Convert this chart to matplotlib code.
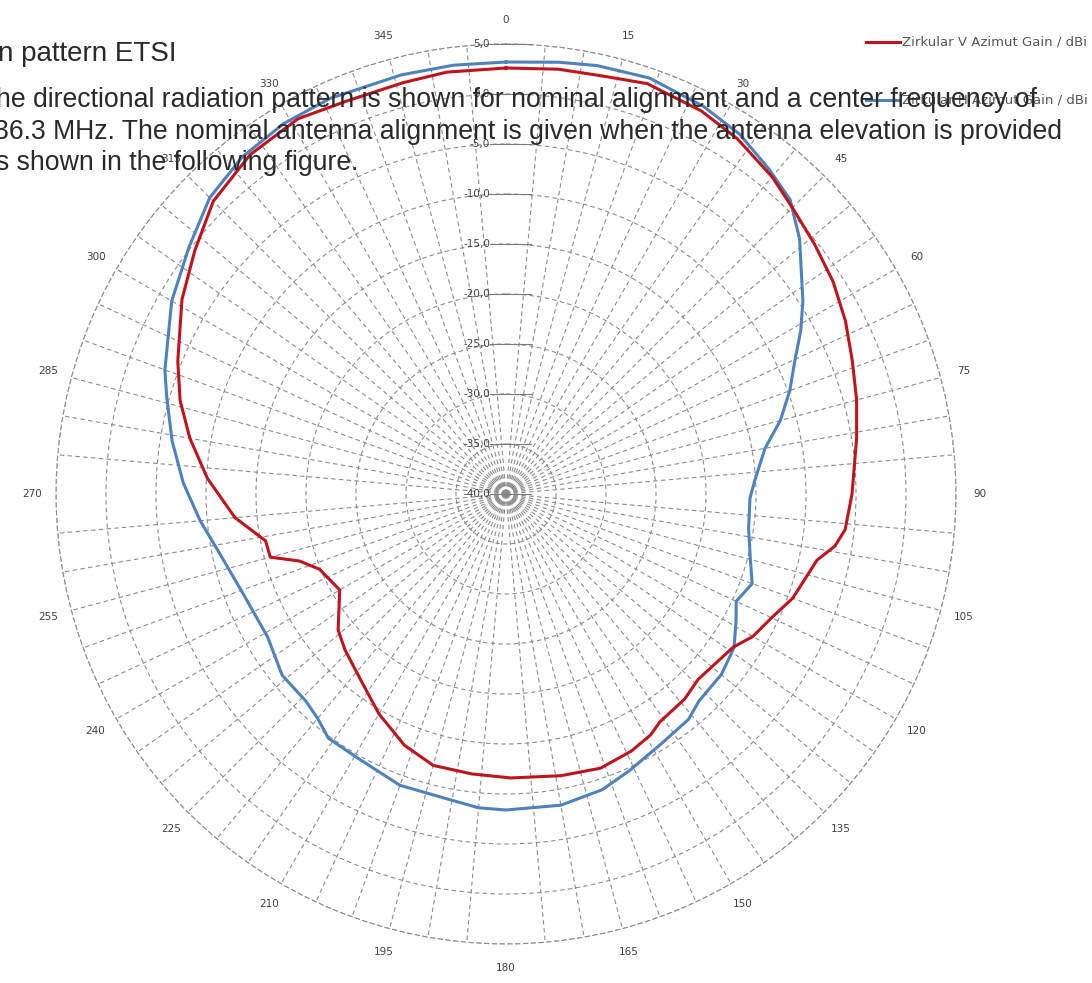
import numpy as np
import matplotlib.pyplot as plt
from matplotlib.lines import Line2D

# azimuth in degrees (clockwise from north), gain in dBi
v_angles = [0, 7, 13, 19, 27, 33, 40, 45, 51, 57, 63, 69, 75, 81, 90, 96, 99, 102,
            110, 115, 120, 124, 134, 139, 146, 149, 154, 161, 169, 179, 187, 195,
            202, 210, 218, 226, 231, 240, 248, 252, 255, 259, 265, 273, 280, 286,
            292, 301, 308, 315, 323, 331, 338, 346, 352]
v_gain = [2.6, 2.8, 2.9, 3.4, 3.0, 2.4, 1.4, 0.5, -0.3, -1.0, -1.9, -2.9, -3.7, -4.5,
          -5.4, -5.9, -6.7, -8.2, -9.5, -10.7, -11.5, -12.6, -13.3, -12.8, -12.5,
          -11.9, -11.4, -11.0, -11.3, -11.6, -11.8, -11.9, -12.9, -14.6, -16.4,
          -17.6, -18.4, -20.8, -19.9, -18.3, -15.6, -15.5, -12.8, -10.1, -7.9, -6.1,
          -4.6, -2.2, -0.5, 1.4, 2.5, 2.9, 2.4, 2.4, 2.6]

h_angles = [0, 7, 12, 19, 27, 33, 39, 44, 49, 57, 61, 65, 70, 75, 80, 87, 91, 98,
            105, 110, 115, 119, 124, 130, 137, 141, 148, 156, 162, 170, 180, 185,
            190, 200, 209, 216, 220, 224, 231, 239, 249, 258, 265, 272, 279, 286,
            290, 300, 308, 315, 322, 329, 336, 346, 353]
h_gain = [3.2, 3.5, 3.8, 4.0, 3.5, 2.9, 1.8, 0.9, -1.1, -4.6, -6.3, -8.1, -9.8, -11.6,
          -13.7, -15.1, -15.6, -15.5, -14.7, -13.8, -14.6, -13.7, -12.5, -11.9, -11.7,
          -11.0, -10.6, -9.7, -8.9, -8.4, -8.4, -8.5, -8.9, -9.0, -9.7, -9.8, -10.7,
          -11.2, -11.2, -12.2, -11.9, -10.8, -9.3, -7.7, -6.2, -4.7, -3.7, -1.4, 0.2,
          1.9, 2.8, 3.2, 3.3, 3.2, 3.2]

angle_ticks = list(range(0, 360, 15))
ring_values = list(range(-40, 6, 5))

W, H = 1092, 983
cx, cy, R = 506, 494, 450   # centre and outer radius in pixels


def fx(px):
    return px / W


def fy(py):
    return 1 - py / H


fig = plt.figure(figsize=(W / 100, H / 100), dpi=100)
ax = fig.add_axes([fx(cx - R), fy(cy + R), 2 * R / W, 2 * R / H], projection='polar')
ax.set_theta_zero_location('N')
ax.set_theta_direction(-1)
ax.set_ylim(-40, 5)

grid_kw = dict(color='#8c8c8c', linestyle=(0, (4, 3)), linewidth=0.8)
# spokes every 5 degrees, none on the four main axes
spokes = [a for a in range(0, 360, 5) if a % 90 != 0]
ax.set_xticks(np.deg2rad(spokes))
ax.set_xticklabels([])
ax.set_yticks(ring_values)
ax.set_yticklabels([])
ax.grid(True, **grid_kw)
ax.spines['polar'].set_color('#8c8c8c')
ax.spines['polar'].set_linestyle((0, (4, 3)))
ax.spines['polar'].set_linewidth(0.8)
ax.tick_params(length=0)

# angle labels
for a in angle_ticks:
    ax.text(np.deg2rad(a), 7.4, str(a), ha='center', va='center',
            fontsize=7.5, color='#404040', clip_on=False)

# value labels along the 0 degree axis
for v in ring_values:
    ypix = cy - (v + 40) * 10
    fig.text(fx(cx - 16), fy(ypix), f"{v:.1f}".replace('.', ','), ha='right',
             va='center', fontsize=7.5, color='#404040')
    fig.add_artist(Line2D([fx(cx - 16), fx(cx + 25)], [fy(ypix), fy(ypix)],
                          color='#7a7a7a', lw=0.8))

th_v = np.deg2rad(v_angles + [v_angles[0]])
th_h = np.deg2rad(h_angles + [h_angles[0]])
ax.plot(th_h, h_gain + [h_gain[0]], color='#4f81bd', lw=2.2)
ax.plot(th_v, v_gain + [v_gain[0]], color='#c0141c', lw=2.2)

# legend (cut by the right edge as in the source)
fig.add_artist(Line2D([fx(866), fx(900)], [fy(42), fy(42)], color='#c0141c', lw=2.2))
fig.text(fx(902), fy(42), "Zirkular V Azimut Gain / dBi", fontsize=9.5,
         color='#555555', va='center', ha='left')
fig.add_artist(Line2D([fx(866), fx(900)], [fy(100), fy(100)], color='#4f81bd', lw=2.2))
fig.text(fx(902), fy(100), "Zirkular H Azimut Gain / dBi", fontsize=9.5,
         color='#555555', va='center', ha='left')

# document text overlapping the chart
font = 'Liberation Sans'
tcol = '#2a2a2a'
fig.text(fx(-2), fy(61), "n pattern ETSI", fontsize=20, family=font, va='baseline',
         color=tcol)
fig.text(fx(-4), fy(107), "he directional radiation pattern is shown for nominal alignment "
         "and a center frequency of", fontsize=19.2, family=font, va='baseline', color=tcol)
fig.text(fx(-6), fy(139), "36.3 MHz. The nominal antenna alignment is given when the "
         "antenna elevation is provided", fontsize=19.2, family=font, va='baseline',
         color=tcol)
fig.text(fx(-4), fy(170), "s shown in the following figure.", fontsize=19.2,
         family=font, va='baseline', color=tcol)

fig.savefig("out.png", dpi=100)
